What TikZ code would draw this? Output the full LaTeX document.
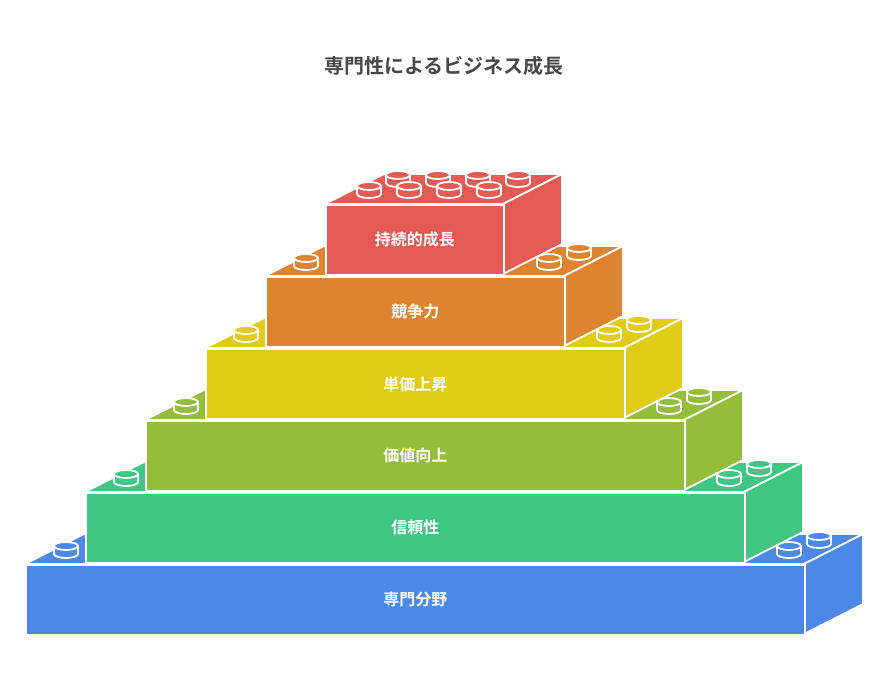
\documentclass[tikz,border=0pt]{standalone}
\usepackage{fontspec}
\newfontfamily\jp{Noto Sans CJK JP}
\newfontfamily\jpb{Noto Sans CJK JP Bold}
\definecolor{cR}{HTML}{E55A54}
\definecolor{cO}{HTML}{DE8431}
\definecolor{cY}{HTML}{DFCB18}
\definecolor{cL}{HTML}{93BD3A}
\definecolor{cG}{HTML}{3EC682}
\definecolor{cB}{HTML}{4C88E5}
\newcommand\mystud[3]{%
  \draw[face=#3] (#1-12,#2) -- (#1-12,#2+8) arc[start angle=180,end angle=360,x radius=12,y radius=-4] -- (#1+12,#2) -- cycle;
  \draw[face=#3] (#1,#2) ellipse[x radius=12,y radius=4];}
\newcommand\mylevel[6]{% name x1 x2 ytop color text
  \draw[face=#5] (#2,#4) -- (#2+59,#4-30) -- (#3+59,#4-30) -- (#3,#4) -- cycle;
  \draw[face=#5] (#3,#4) -- (#3+59,#4-30) -- (#3+59,#4+40) -- (#3,#4+70) -- cycle;
  \node[front=#5, minimum width={#3-#2}, anchor=north west] (#1) at (#2,#4) {#6};}
\begin{document}
\begin{tikzpicture}[x=1pt,y=-1pt,
  face/.style={fill=#1,draw=white,line width=1.8pt,line join=round},
  front/.style={rectangle,fill=#1,draw=white,line width=1.8pt,minimum height=70pt,inner sep=0pt,text=white,font=\jpb\fontsize{16}{18}\selectfont}]
\useasboundingbox (0,0) rectangle (888,684);
\node[font=\jpb\fontsize{20}{24}\selectfont,text=black!72] (title) at (444,66) {専門性によるビジネス成長};
\mylevel{l1}{25}{804}{564}{cB}{専門分野}
\mystud{66}{546}{cB}\mystud{819}{536}{cB}\mystud{789}{546}{cB}
\mylevel{l2}{85}{744}{492}{cG}{信頼性}
\mystud{126}{474}{cG}\mystud{759}{464}{cG}\mystud{729}{474}{cG}
\mylevel{l3}{145}{684}{420}{cL}{価値向上}
\mystud{186}{402}{cL}\mystud{699}{392}{cL}\mystud{669}{402}{cL}
\mylevel{l4}{205}{624}{348}{cY}{単価上昇}
\mystud{246}{330}{cY}\mystud{639}{320}{cY}\mystud{609}{330}{cY}
\mylevel{l5}{265}{564}{276}{cO}{競争力}
\mystud{306}{258}{cO}\mystud{579}{248}{cO}\mystud{549}{258}{cO}
\mylevel{l6}{325}{503}{204}{cR}{}
\foreach \x in {398,438,478,518} {\mystud{\x}{175}{cR}}
\foreach \x in {369,409,449,489} {\mystud{\x}{186}{cR}}
\node[text=white,font=\jpb\fontsize{16}{18}\selectfont] (l6t) at (l6.center) {持続的成長};
\end{tikzpicture}
\end{document}
